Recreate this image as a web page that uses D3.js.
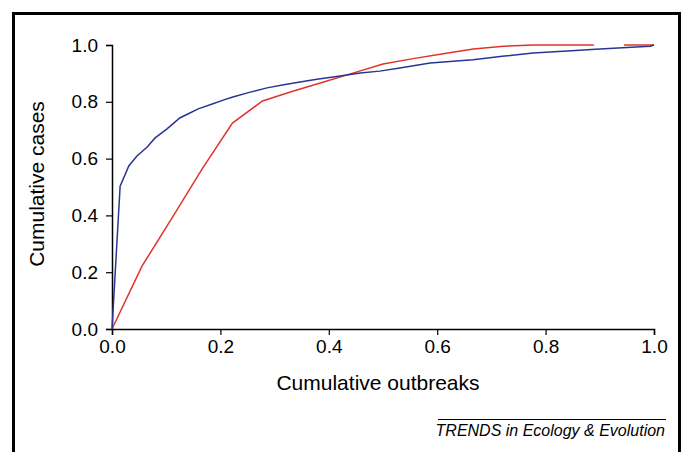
<!DOCTYPE html>
<html>
<head>
<meta charset="utf-8">
<script src="https://cdn.jsdelivr.net/npm/d3@7"></script>
<style>
  body { margin: 0; background: #fff; }
  svg text { font-family: "Liberation Sans", Arial, sans-serif; fill: #000; }
</style>
</head>
<body>
<div id="chart"></div>
<script>
// Chart data
var blueX = [0, 0.015, 0.031, 0.046, 0.065, 0.079, 0.101, 0.125, 0.140, 0.159, 0.185, 0.205, 0.223, 0.255, 0.286, 0.317, 0.347, 0.378, 0.408, 0.458, 0.494, 0.531, 0.587, 0.666, 0.720, 0.777, 0.840, 0.900, 0.950, 0.993, 1];
var blueY = [0, 0.503, 0.574, 0.609, 0.641, 0.672, 0.704, 0.743, 0.757, 0.775, 0.792, 0.806, 0.817, 0.834, 0.849, 0.860, 0.870, 0.879, 0.887, 0.901, 0.908, 0.919, 0.937, 0.948, 0.960, 0.972, 0.979, 0.986, 0.991, 0.996, 1];

// red series: 18 outbreaks, a break between the 16th and 17th point
var redX = [0, 1/18, 2/18, 3/18, 4/18, 5/18, 6/18, 7/18, 8/18, 9/18, 10/18, 11/18, 12/18, 13/18, 14/18, 15/18, 16/18, null, 17/18, 1];
var redY = [0, 0.222, 0.392, 0.565, 0.725, 0.803, 0.837, 0.869, 0.901, 0.933, 0.952, 0.969, 0.986, 0.996, 1, 1, 1, null, 1, 1];

var xTicks = [0, 0.2, 0.4, 0.6, 0.8, 1.0];
var yTicks = [0, 0.2, 0.4, 0.6, 0.8, 1.0];

var svgWidth = 684;
var svgHeight = 452;

var chartMargin = { top: 45, right: 30, bottom: 123, left: 112 };
var chartWidth = 654 - chartMargin.left;
var chartHeight = 329 - chartMargin.top;

var svg = d3.select("#chart")
  .append("svg")
  .attr("width", svgWidth)
  .attr("height", svgHeight);

// outer frame
svg.append("rect")
  .attr("x", 13.5)
  .attr("y", 13.5)
  .attr("width", 666)
  .attr("height", 460)
  .attr("fill", "none")
  .attr("stroke", "#000")
  .attr("stroke-width", 3);

var chartGroup = svg.append("g")
  .attr("transform", `translate(${chartMargin.left}, ${chartMargin.top})`);

var xScale = d3.scaleLinear().domain([0, 1]).range([0, chartWidth]);
var yScale = d3.scaleLinear().domain([0, 1]).range([chartHeight, 0]);

var bottomAxis = d3.axisBottom(xScale)
  .tickValues(xTicks)
  .tickFormat(d3.format(".1f"))
  .tickSizeOuter(0)
  .tickSize(6)
  .tickPadding(5);

var leftAxis = d3.axisLeft(yScale)
  .tickValues(yTicks)
  .tickFormat(d3.format(".1f"))
  .tickSizeOuter(0)
  .tickSize(6)
  .tickPadding(8);

var xAxis = chartGroup.append("g")
  .attr("transform", `translate(0, ${chartHeight})`)
  .call(bottomAxis);

var yAxis = chartGroup.append("g")
  .call(leftAxis);

[xAxis, yAxis].forEach(function (ax) {
  ax.select(".domain").attr("stroke", "#000").attr("stroke-width", 1.5);
  ax.selectAll(".tick line").attr("stroke", "#000").attr("stroke-width", 1.2);
  ax.selectAll(".tick text")
    .attr("font-size", 19)
    .attr("font-family", "Liberation Sans, Arial, sans-serif")
    .attr("fill", "#000");
});

// lines
var line = d3.line()
  .defined(d => d[0] !== null)
  .x(d => xScale(d[0]))
  .y(d => yScale(d[1]));

var redData = redX.map((x, i) => [x, redY[i]]);
var blueData = blueX.map((x, i) => [x, blueY[i]]);

chartGroup.append("path")
  .datum(redData)
  .attr("d", line)
  .attr("fill", "none")
  .attr("stroke", "#e0342a")
  .attr("stroke-width", 1.5);

chartGroup.append("path")
  .datum(blueData)
  .attr("d", line)
  .attr("fill", "none")
  .attr("stroke", "#2a3593")
  .attr("stroke-width", 1.5);

// axis titles
svg.append("text")
  .attr("x", 112 + chartWidth / 2 - 5)
  .attr("y", 390)
  .attr("text-anchor", "middle")
  .attr("font-size", 21)
  .text("Cumulative outbreaks");

svg.append("text")
  .attr("transform", "translate(44, 184) rotate(-90)")
  .attr("text-anchor", "middle")
  .attr("font-size", 21)
  .text("Cumulative cases");

// journal credit
svg.append("line")
  .attr("x1", 438)
  .attr("x2", 666)
  .attr("y1", 419.5)
  .attr("y2", 419.5)
  .attr("stroke", "#000")
  .attr("stroke-width", 1);

svg.append("text")
  .attr("x", 665)
  .attr("y", 436)
  .attr("text-anchor", "end")
  .attr("font-size", 16)
  .attr("font-style", "italic")
  .text("TRENDS in Ecology & Evolution");
</script>
</body>
</html>
